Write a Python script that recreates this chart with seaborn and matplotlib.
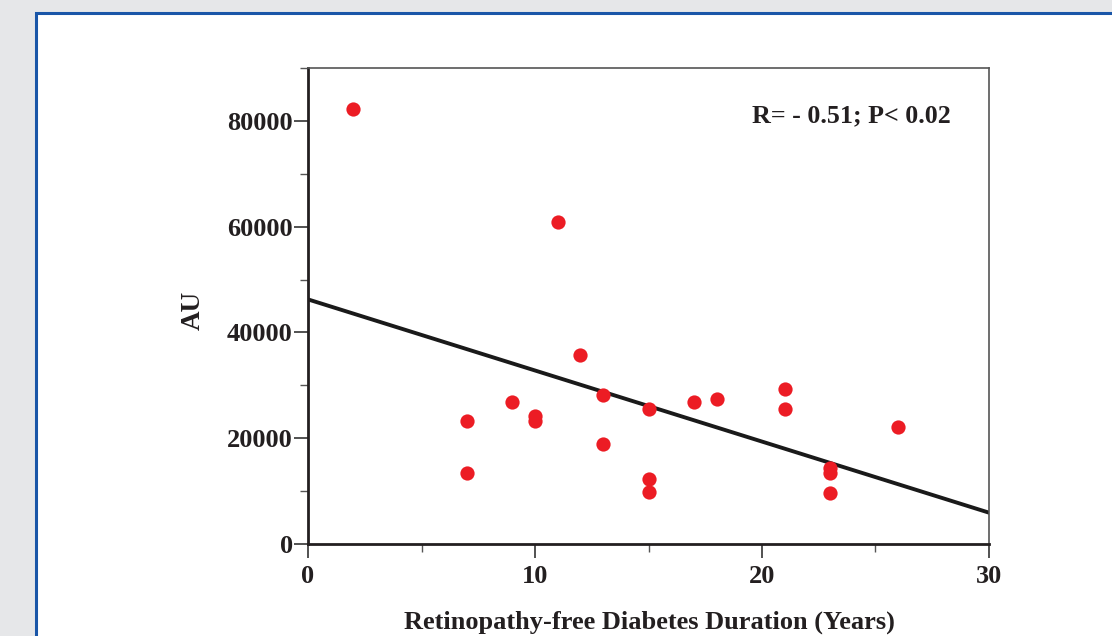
import matplotlib
matplotlib.use("Agg")
import matplotlib.pyplot as plt
import matplotlib.patches as patches
from matplotlib.ticker import MultipleLocator
import pandas as pd
import seaborn as sns

sns.set_theme(style="white")
plt.rcParams["font.family"] = ["Liberation Serif", "DejaVu Serif"]
plt.rcParams["font.weight"] = "bold"

# data
duration_years = [2, 11, 12, 7, 7, 9, 10, 10, 13, 13, 15, 15, 15,
                  17, 18, 21, 21, 23, 23, 23, 26]
au_values = [82200, 60900, 35700, 23300, 13400, 26900, 24200, 23300,
             28200, 18900, 25500, 12200, 9800, 26900, 27400, 29400,
             25600, 14300, 13400, 9600, 22100]
x_ticks = [0, 10, 20, 30]
y_ticks = [0, 20000, 40000, 60000, 80000]
stat_text = "R= - 0.51; P< 0.02"

df = pd.DataFrame({"duration": duration_years, "au": au_values})

fig = plt.figure(figsize=(11.12, 6.36), dpi=100)
fig.patch.set_facecolor("#e6e7e9")

# white panel with blue frame, kept behind the axes
panel = patches.Rectangle((36 / 1112, -0.05), 1.1, 1 - 13 / 636 + 0.05,
                          transform=fig.transFigure, facecolor="white",
                          edgecolor="#1a56a8", linewidth=2.2, zorder=-10)
fig.patches.append(panel)

ax = fig.add_axes([308 / 1112, 1 - 544 / 636, 681 / 1112, 476 / 636])
ax.set_facecolor("white")

# limits first so the fitted line runs across the whole x range
ax.set_xlim(0, 30)
ax.set_ylim(0, 90000)

sns.regplot(
    data=df, x="duration", y="au", ax=ax,
    ci=None, truncate=False,
    scatter_kws={"color": "#ec1c24", "s": 105, "alpha": 1, "linewidths": 0, "zorder": 3},
    line_kws={"color": "#1a1a1a", "linewidth": 2.8, "zorder": 2},
)

ax.set_xlim(0, 30)
ax.set_ylim(0, 90000)
ax.set_xticks(x_ticks)
ax.set_yticks(y_ticks)
ax.xaxis.set_minor_locator(MultipleLocator(5))
ax.yaxis.set_minor_locator(MultipleLocator(10000))

ax.tick_params(axis="both", which="major", direction="out", length=10, width=1.2,
               color="#333333", labelsize=19, labelcolor="#231f20", pad=4,
               bottom=True, left=True)
ax.tick_params(axis="y", which="major", pad=1)
ax.tick_params(axis="x", which="major", pad=5)
ax.tick_params(axis="both", which="minor", direction="out", length=6, width=1.0,
               color="#555555", bottom=True, left=True)
for lab in ax.get_xticklabels() + ax.get_yticklabels():
    lab.set_fontweight("bold")

for side in ["left", "bottom"]:
    ax.spines[side].set_color("#231f20")
    ax.spines[side].set_linewidth(2.0)
for side in ["top", "right"]:
    ax.spines[side].set_color("#555555")
    ax.spines[side].set_linewidth(1.2)

ax.set_xlabel("Retinopathy-free Diabetes Duration (Years)", fontsize=19,
              fontweight="bold", color="#231f20")
ax.set_ylabel("AU", fontsize=19.5, fontweight="bold", color="#231f20")
ax.xaxis.set_label_coords(0.502, -0.165)
ax.xaxis.label.set_va("center")
ax.yaxis.set_label_coords(-0.168, 0.49)
ax.yaxis.label.set_va("center")

ax.text(0.944, 0.90, stat_text, transform=ax.transAxes, ha="right", va="center",
        fontsize=18.7, fontweight="bold", color="#231f20")

fig.savefig("out.png", dpi=100, facecolor=fig.get_facecolor())
